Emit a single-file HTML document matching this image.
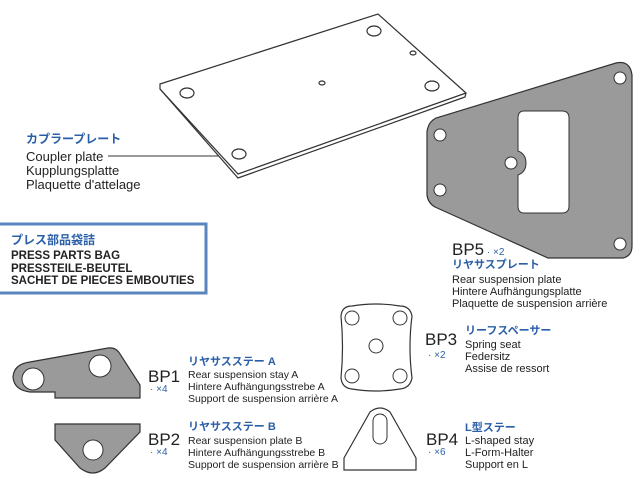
<!DOCTYPE html>
<html><head><meta charset="utf-8"><style>
body{margin:0;width:640px;height:480px;background:#fff;overflow:hidden;position:relative;font-family:"Liberation Sans","Noto Sans CJK JP",sans-serif;}
.t{position:absolute;font-size:11px;line-height:12px;color:#222;white-space:nowrap;}
.j{color:#2a5fa8;font-size:11px;font-weight:bold;}
.bp{position:absolute;font-size:17px;color:#222;}
.x{position:absolute;font-size:10px;color:#2a5fa8;}
</style></head><body>
<svg width="640" height="480" style="position:absolute;left:0;top:0">
<g fill="none" stroke="#333" stroke-width="1.2">
<path d="M160 84 L378 14 L466 93 L465 97 L238 178 L160 89 Z" fill="#fff"/>
<path d="M160 89 L238 174 L466 93"/>
<ellipse cx="187" cy="93" rx="7" ry="5"/><ellipse cx="374" cy="31" rx="7" ry="5"/><ellipse cx="432" cy="86" rx="7" ry="5"/><ellipse cx="239" cy="154" rx="7" ry="5"/>
<ellipse cx="322" cy="83" rx="3" ry="2"/><ellipse cx="413" cy="53" rx="3" ry="2"/>
</g>
<line x1="108" y1="156" x2="218" y2="156" stroke="#333"/>
<path d="M436 118 Q428 122 427 132 L427 195 Q428 203 435 207 L548 258 L623 258 Q632 256 632 246 L632 75 Q630 60 616 63 Z" fill="#9a9a9a" stroke="#333" stroke-width="1.2"/>
<path d="M524 111 L562 111 Q569 111 569 118 L569 206 Q569 213 562 213 L524 213 Q518 213 518 206 L518 175 Q526 172 526 163 Q526 154 518 151 L518 118 Q518 111 524 111 Z" fill="#fff" stroke="#333"/>
<g fill="#fff" stroke="#333"><circle cx="440" cy="135" r="6"/><circle cx="440" cy="190" r="6"/><circle cx="620" cy="78" r="6"/><circle cx="620" cy="244" r="6"/><circle cx="511" cy="163" r="6"/></g>
<path d="M352 306 Q376 302 400 306 Q410 306 412 316 Q408 347 412 378 Q410 388 400 389 Q376 393 352 389 Q342 388 341 378 Q344 347 341 316 Q342 306 352 306 Z" fill="#fff" stroke="#333" stroke-width="1.2"/>
<g fill="#fff" stroke="#333"><circle cx="352" cy="318" r="7"/><circle cx="400" cy="318" r="7"/><circle cx="352" cy="376" r="7"/><circle cx="400" cy="376" r="7"/><circle cx="376" cy="346" r="7"/></g>
<path d="M30 362 L108 348 Q116 347 120 354 L140 385 L140 398 L55 398 L55 392 L30 392 Q14 390 13 377 Q14 364 30 362 Z" fill="#9a9a9a" stroke="#333" stroke-width="1.2"/>
<g fill="#fff" stroke="#333"><circle cx="33" cy="379" r="11"/><circle cx="100" cy="366" r="11"/></g>
<path d="M55 424 L140 424 L140 432 L105 468 Q93 478 80 468 L55 440 Z" fill="#9a9a9a" stroke="#333" stroke-width="1.2"/>
<circle cx="93" cy="450" r="10" fill="#fff" stroke="#333"/>
<path d="M370 412 Q380 404 390 412 L416 458 L416 470 L344 470 L344 458 Z" fill="#fff" stroke="#333" stroke-width="1.2"/>
<rect x="373" y="414" width="14" height="30" rx="7" fill="#fff" stroke="#333"/>
<rect x="-2" y="224" width="208" height="69" fill="none" stroke="#5b86bd" stroke-width="3"/>
</svg>
<div class="t j" style="left:26px;top:133px;font-size:12px">カプラープレート</div>
<div class="t" style="left:26px;top:150px;font-size:13px;line-height:14px">Coupler plate<br>Kupplungsplatte<br>Plaquette d'attelage</div>
<div class="t j" style="left:11px;top:234px;font-size:12px">プレス部品袋詰</div>
<div class="t" style="left:11px;top:250px;font-size:11.5px;line-height:12.5px;font-weight:bold">PRESS PARTS BAG<br>PRESSTEILE-BEUTEL<br>SACHET DE PIECES EMBOUTIES</div>
<div class="bp" style="left:452px;top:240px">BP5<span style="font-size:10px;color:#2a5fa8"> · ×2</span></div>
<div class="t j" style="left:452px;top:259px">リヤサスプレート</div>
<div class="t" style="left:452px;top:274px">Rear suspension plate<br>Hintere Aufhängungsplatte<br>Plaquette de suspension arrière</div>
<div class="bp" style="left:425px;top:330px">BP3</div><div class="x" style="left:428px;top:350px">· ×2</div>
<div class="t j" style="left:465px;top:325px">リーフスペーサー</div>
<div class="t" style="left:465px;top:339px">Spring seat<br>Federsitz<br>Assise de ressort</div>
<div class="bp" style="left:148px;top:367px">BP1</div><div class="x" style="left:150px;top:384px">· ×4</div>
<div class="t j" style="left:188px;top:356px">リヤサスステー A</div>
<div class="t" style="left:188px;top:369px;font-size:10.5px">Rear suspension stay A<br>Hintere Aufhängungsstrebe A<br>Support de suspension arrière A</div>
<div class="bp" style="left:148px;top:430px">BP2</div><div class="x" style="left:150px;top:447px">· ×4</div>
<div class="t j" style="left:188px;top:421px">リヤサスステー B</div>
<div class="t" style="left:188px;top:435px;font-size:10.5px">Rear suspension plate B<br>Hintere Aufhängungsstrebe B<br>Support de suspension arrière B</div>
<div class="bp" style="left:426px;top:430px">BP4</div><div class="x" style="left:428px;top:447px">· ×6</div>
<div class="t j" style="left:465px;top:422px">L型ステー</div>
<div class="t" style="left:465px;top:435px">L-shaped stay<br>L-Form-Halter<br>Support en L</div>
</body></html>
